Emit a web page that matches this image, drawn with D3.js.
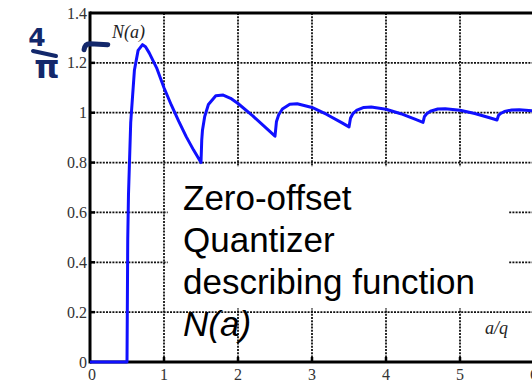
<!DOCTYPE html>
<html lang="en">
<head>
  <meta charset="UTF-8">
  <title>Quantizer describing function</title>
  <style>
    body { margin: 0; background: #fff; }
    svg { display: block; }
  </style>
</head>
<body>
  <svg id="svg" width="532" height="382"></svg>
  <script src="https://d3js.org/d3.v7.min.js"></script>
  <script>
    // a/q values (denser near the jumps)
    const aq = [0, 0.5, 0.51, 0.52, 0.55, 0.6, 0.65, 0.71, 0.75, 0.8, 0.9, 1.0, 1.1, 1.2, 1.3, 1.4, 1.5,
      1.51, 1.52, 1.55, 1.6, 1.7, 1.8, 1.9, 2.0, 2.2, 2.4, 2.5,
      2.52, 2.55, 2.6, 2.7, 2.8, 3.0, 3.2, 3.4, 3.5,
      3.52, 3.55, 3.6, 3.7, 3.8, 4.0, 4.2, 4.4, 4.5,
      4.52, 4.55, 4.6, 4.7, 4.8, 5.0, 5.2, 5.4, 5.5,
      5.52, 5.55, 5.6, 5.7, 5.8, 6.0, 6.2]
    // N(a)
    const na = [0, 0, 0.49, 0.67, 0.96, 1.17, 1.25, 1.273, 1.265, 1.24, 1.18, 1.10, 1.03, 0.965, 0.904, 0.85, 0.80,
      0.89, 0.93, 0.985, 1.033, 1.068, 1.071, 1.058, 1.037, 0.987, 0.933, 0.906,
      0.965, 0.992, 1.015, 1.034, 1.036, 1.021, 0.993, 0.960, 0.943,
      0.978, 0.995, 1.009, 1.021, 1.023, 1.014, 0.996, 0.973, 0.961,
      0.985, 0.996, 1.006, 1.015, 1.016, 1.010, 0.997, 0.980, 0.971,
      0.989, 0.997, 1.005, 1.011, 1.012, 1.007, 1.000]

    const xTicks = [0, 1, 2, 3, 4, 5, 6]
    const yTicks = [0, 0.2, 0.4, 0.6, 0.8, 1, 1.2, 1.4]
    const textLines = ['Zero-offset', 'Quantizer', 'describing function']

    const svg = d3.select('#svg')
    const x = d3.scaleLinear().domain([0, 6]).range([90, 534])
    const y = d3.scaleLinear().domain([0, 1.4]).range([362, 13])
    const W = 532

    // grid
    const grid = svg.append('g')
      .attr('stroke', '#111')
      .attr('stroke-width', 1.8)
      .attr('stroke-dasharray', '2,1.2')
    grid.selectAll('line.v')
      .data(xTicks.slice(1))
      .enter().append('line')
      .attr('x1', d => x(d)).attr('x2', d => x(d))
      .attr('y1', y(1.4)).attr('y2', y(0))
    grid.selectAll('line.h')
      .data(yTicks.slice(1, -1))
      .enter().append('line')
      .attr('x1', x(0)).attr('x2', W)
      .attr('y1', d => y(d)).attr('y2', d => y(d))

    // little solid ticks on the axes
    svg.append('g').selectAll('line')
      .data(xTicks.slice(1))
      .enter().append('line')
      .attr('x1', d => x(d)).attr('x2', d => x(d))
      .attr('y1', y(0)).attr('y2', y(0) - 5)
      .attr('stroke', '#000').attr('stroke-width', 2.5)
    svg.append('g').selectAll('line')
      .data(yTicks.slice(1, -1))
      .enter().append('line')
      .attr('x1', x(0)).attr('x2', x(0) + 5)
      .attr('y1', d => y(d)).attr('y2', d => y(d))
      .attr('stroke', '#000').attr('stroke-width', 2.5)

    // frame
    const frame = svg.append('g').attr('stroke', '#000').attr('stroke-width', 3)
    frame.append('line').attr('x1', x(0)).attr('x2', W).attr('y1', y(1.4)).attr('y2', y(1.4))
    frame.append('line').attr('x1', x(0)).attr('x2', W).attr('y1', y(0)).attr('y2', y(0))
    frame.append('line').attr('x1', x(0)).attr('x2', x(0)).attr('y1', y(1.4) - 1.5).attr('y2', y(0) + 1.5)

    // tick labels
    svg.append('g').selectAll('text')
      .data(yTicks)
      .enter().append('text')
      .attr('x', 87)
      .attr('y', d => y(d))
      .attr('dy', '0.35em')
      .attr('text-anchor', 'end')
      .attr('font-family', 'Liberation Serif')
      .attr('font-size', 16)
      .attr('fill', '#333')
      .text(d => d3.format('~g')(d))
    svg.append('g').selectAll('text')
      .data(xTicks)
      .enter().append('text')
      .attr('x', d => x(d) + (d === 0 ? 2 : 0))
      .attr('y', 380)
      .attr('text-anchor', 'middle')
      .attr('font-family', 'Liberation Serif')
      .attr('font-size', 16)
      .attr('fill', '#333')
      .text(d => d)

    // curve
    const line = d3.line()
      .x(d => x(d[0]))
      .y(d => y(d[1]))
    svg.append('path')
      .datum(d3.zip(aq, na))
      .attr('d', line)
      .attr('fill', 'none')
      .attr('stroke', '#1010ff')
      .attr('stroke-width', 3)
      .attr('stroke-linejoin', 'round')

    // white text box over the grid
    svg.append('rect')
      .attr('x', x(1.05)).attr('y', y(0.785))
      .attr('width', x(5.65) - x(1.05))
      .attr('height', y(0.215) - y(0.785))
      .attr('fill', '#fff')

    const big = svg.append('g')
      .attr('font-family', 'Liberation Sans')
      .attr('font-size', 35)
      .attr('fill', '#000')
    big.selectAll('text')
      .data(textLines)
      .enter().append('text')
      .attr('x', 183)
      .attr('y', (d, i) => 210 + i * 42)
      .text(d => d)
    big.append('text')
      .attr('x', 183).attr('y', 336)
      .attr('font-style', 'italic')
      .text('N(a)')

    // axis names
    svg.append('text')
      .attr('x', 112).attr('y', 38)
      .attr('font-family', 'Liberation Serif')
      .attr('font-style', 'italic')
      .attr('font-size', 18)
      .attr('fill', '#222')
      .text('N(a)')
    svg.append('text')
      .attr('x', 485).attr('y', 334)
      .attr('font-family', 'Liberation Serif')
      .attr('font-style', 'italic')
      .attr('font-size', 18)
      .attr('fill', '#222')
      .text('a/q')

    // handwritten 4/pi note
    const ink = '#13286b'
    const peak = d3.max(na)
    svg.append('path')
      .attr('d', `M${x(-0.08)},${y(peak) + 5} Q${x(-0.07)},${y(peak) - 1} ${x(0)},${y(peak) - 1} L${x(0.24)},${y(peak)}`)
      .attr('fill', 'none')
      .attr('stroke', ink)
      .attr('stroke-width', 5)
      .attr('stroke-linecap', 'round')
    const note = svg.append('g').attr('fill', ink).attr('font-family', 'DejaVu Sans').attr('font-weight', 'bold')
    note.append('text')
      .attr('x', 37).attr('y', 46)
      .attr('text-anchor', 'middle')
      .attr('font-size', 25)
      .text('4')
    note.append('line')
      .attr('x1', 33).attr('x2', 56).attr('y1', 51).attr('y2', 56)
      .attr('stroke', ink).attr('stroke-width', 4).attr('stroke-linecap', 'round')
    note.append('text')
      .attr('x', 47).attr('y', 78)
      .attr('text-anchor', 'middle')
      .attr('font-size', 32)
      .text('π')
  </script>
</body>
</html>
